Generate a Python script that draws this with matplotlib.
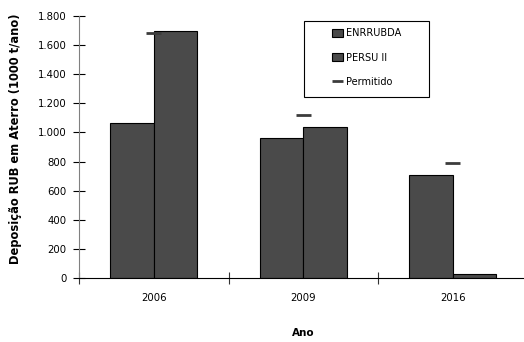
import matplotlib
matplotlib.use("Agg")
import matplotlib.pyplot as plt
import numpy as np
from matplotlib.ticker import FuncFormatter, FixedLocator
from matplotlib.patches import Rectangle

# data
anos = ['2006', '2009', '2016']
enrrubda = [1065, 965, 705]
persu = [1695, 1040, 25]
permitido = [1685, 1120, 790]

plt.rcParams['font.family'] = ['DejaVu Sans']
plt.rcParams['font.size'] = 7

W, H = 524, 342
fig = plt.figure(figsize=(W / 100, H / 100), dpi=100)
ax = fig.add_axes([79 / W, 64 / H, 448.5 / W, 262 / H])

x = np.arange(len(anos))
bw = 0.29
cor = '#4a4a4a'
b1 = ax.bar(x - bw / 2, enrrubda, bw, color=cor, edgecolor='black', linewidth=0.8, label='ENRRUBDA')
b2 = ax.bar(x + bw / 2, persu, bw, color=cor, edgecolor='black', linewidth=0.8, label='PERSU II')
l1 = ax.hlines(permitido, x - 0.05, x + 0.05, colors='#3c3c3c', linewidth=2, label='Permitido')

ax.set_xlim(-0.5, 2.5)
ax.set_ylim(0, 1800)
ax.set_yticks(np.arange(0, 1801, 200))
ax.yaxis.set_major_formatter(FuncFormatter(lambda v, p: f"{int(v):,}".replace(',', '.')))

# ticks between categories, labels at centres
ax.xaxis.set_major_locator(FixedLocator([-0.5, 0.5, 1.5]))
ax.xaxis.set_major_formatter(FuncFormatter(lambda v, p: ''))
ax.set_xticks(x, minor=True)
ax.set_xticklabels(anos, minor=True, fontsize=7.3)
ax.tick_params(axis='x', which='minor', length=0, pad=11)
ax.tick_params(axis='x', which='major', direction='inout', length=9, width=0.8, color='#333333')
ax.tick_params(axis='y', direction='inout', length=8, width=0.8, pad=5, labelsize=7.3)

for s in ['top', 'right']:
    ax.spines[s].set_visible(False)
ax.spines['left'].set_color('#808080')
ax.spines['left'].set_linewidth(0.8)
ax.spines['bottom'].set_color('black')
ax.spines['bottom'].set_linewidth(0.8)

ax.set_ylabel('Deposição RUB em Aterro (1000 t/ano)', fontweight='bold', fontsize=8.3)
ax.yaxis.set_label_coords(-0.128, 0.532)
ax.set_xlabel('Ano', fontweight='bold', fontsize=7.5, labelpad=18)

# legend box like the original
fig.patches.append(Rectangle((304 / W, 1 - 96.7 / H), 125 / W, 76 / H,
                             transform=fig.transFigure, fill=False,
                             edgecolor='black', linewidth=0.8))
fig.legend([b1, b2, l1], ['ENRRUBDA', 'PERSU II', 'Permitido'],
           loc='upper left', bbox_to_anchor=(332 / W, 1 - 28.5 / H), frameon=False,
           borderpad=0, borderaxespad=0, handlelength=1.1, handleheight=0.9,
           handletextpad=0.3, labelspacing=1.45, fontsize=7)

fig.savefig('out.png', dpi=100)
